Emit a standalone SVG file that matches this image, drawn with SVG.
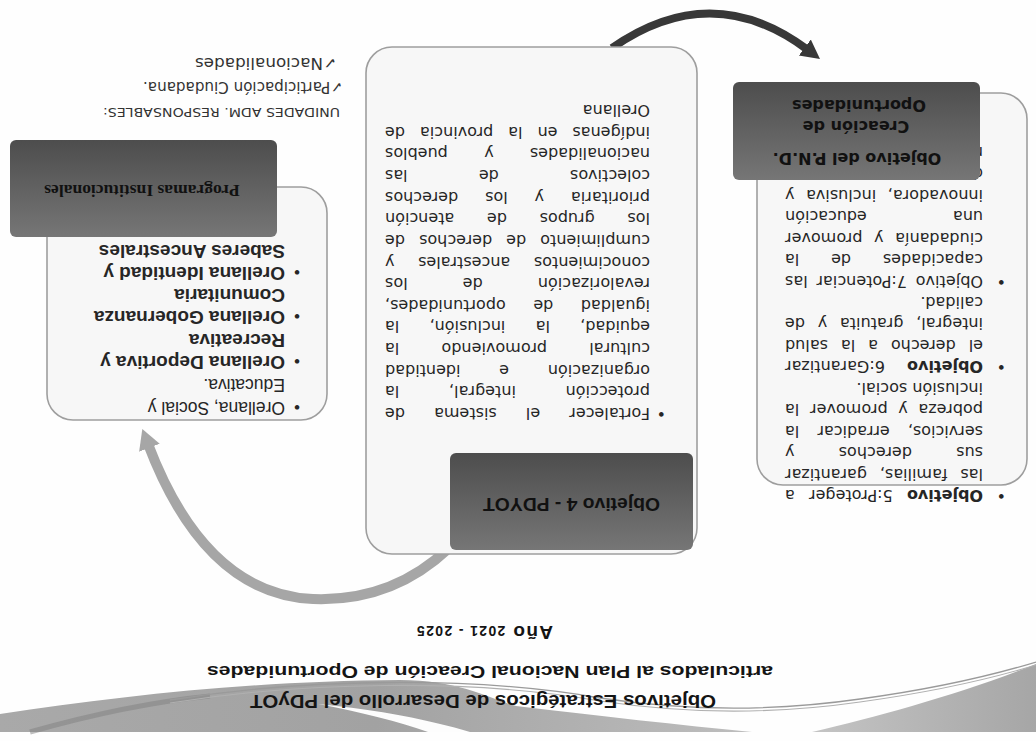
<svg xmlns="http://www.w3.org/2000/svg" width="1036" height="741" viewBox="0 0 1036 741">
<defs>
<style>
.box{fill:#f7f7f7;stroke:#9e9e9e;stroke-width:1.6}
.hdr{fill:url(#hg)}
.body{font-family:"DejaVu Sans",Verdana,sans-serif;font-size:16px;fill:#262626}
.lst{font-family:"Liberation Sans",Arial,sans-serif;fill:#262626}
.hb{font-family:"DejaVu Sans",Verdana,sans-serif;font-size:16px;font-weight:bold;fill:#111}
.ttl{font-family:"Liberation Sans",Arial,sans-serif;font-weight:bold;fill:#141414;text-anchor:middle}
.small{font-family:"DejaVu Sans",Verdana,sans-serif;fill:#333}
</style>
<linearGradient id="hg" x1="0" y1="0" x2="0" y2="1">
<stop offset="0" stop-color="#4d4d4d"/><stop offset="1" stop-color="#767676"/>
</linearGradient>
<linearGradient id="bg1" x1="0" y1="0" x2="1" y2="0">
<stop offset="0" stop-color="#a9a9a9"/><stop offset="0.5" stop-color="#a2a2a2"/><stop offset="1" stop-color="#bdbdbd"/>
</linearGradient>
<linearGradient id="bg2" x1="0" y1="0" x2="1" y2="0">
<stop offset="0" stop-color="#c4c4c4"/><stop offset="1" stop-color="#a6a6a6"/>
</linearGradient>
<marker id="ag" markerUnits="userSpaceOnUse" viewBox="0 0 24 24" markerWidth="24" markerHeight="24" refX="4" refY="12" orient="auto">
<path d="M0,1 L20,12 L0,23 Z" fill="#a6a6a6"/>
</marker>
<marker id="ad" markerUnits="userSpaceOnUse" viewBox="0 0 22 22" markerWidth="22" markerHeight="22" refX="4" refY="11" orient="auto">
<path d="M0,1 L19,11 L0,21 Z" fill="#383838"/>
</marker>
</defs>
<rect width="1036" height="741" fill="#fefefe"/>

<g id="banner">
<path d="M0,714 C120,696 250,681 400,680 C460,680 490,699 516,706 C600,716 680,725 752,732 L0,732 Z" fill="url(#bg1)"/>
<path d="M318,704 C360,712 400,722 428,732 L470,732 C430,720 380,710 318,704 Z" fill="#fdfdfd"/>
<path d="M30,732 C90,715 150,702 210,696" fill="none" stroke="#7f7f7f" stroke-width="5" opacity="0.5"/>
<path d="M812,732 C880,716 960,694 1036,664 L1036,732 Z" fill="url(#bg2)"/>
<path d="M170,700 C300,679 470,675 600,698 C680,710 770,712 860,699 C940,688 990,676 1036,662" fill="none" stroke="#9a9a9a" stroke-width="1.3"/>
<path d="M170,703 C300,682 470,678 600,701 C680,713 770,715 860,702 C940,691 990,679 1036,665" fill="none" stroke="#b0b0b0" stroke-width="1.1"/>
<g transform="rotate(180 518 370.5)">
<text class="ttl" x="553" y="46" font-size="18" textLength="466" lengthAdjust="spacingAndGlyphs">Objetivos Estratégicos de Desarrollo del PDyOT</text>
<text class="ttl" x="546" y="75" font-size="17" textLength="566" lengthAdjust="spacingAndGlyphs">articulados al Plan Nacional Creación de Oportunidades</text>
<text class="ttl" x="551" y="115" font-size="19" textLength="136" lengthAdjust="spacing">Año <tspan font-size="14">2021 - 2025</tspan></text>
</g>
</g>

<g id="connectors">
<path d="M449,548 Q392,602 313,599 Q205,594 148,444" fill="none" stroke="#a6a6a6" stroke-width="10" marker-end="url(#ag)"/>
<path d="M612,48 Q712,-22 808,50" fill="none" stroke="#383838" stroke-width="8" marker-end="url(#ad)"/>
</g>

<g id="node-pnd">
<rect class="box" x="757" y="93" width="270" height="392" rx="26"/>
<g transform="rotate(180 518 370.5)" class="body">
<text x="30" y="251">•</text>
<text x="53" y="251" textLength="198" lengthAdjust="spacing" word-spacing="9"><tspan font-weight="bold">Objetivo</tspan> 5:Proteger a</text>
<text x="53" y="272.5" textLength="198" lengthAdjust="spacing" word-spacing="7.8">las familias, garantizar</text>
<text x="53" y="293.9" textLength="198" lengthAdjust="spacing" word-spacing="39">sus derechos y</text>
<text x="53" y="315.4" textLength="198" lengthAdjust="spacing" word-spacing="13">servicios, erradicar la</text>
<text x="53" y="336.8" textLength="198" lengthAdjust="spacing" word-spacing="5.5">pobreza y promover la</text>
<text x="53" y="358.3">inclusión social.</text>
<text x="30" y="379.7">•</text>
<text x="53" y="379.7" textLength="198" lengthAdjust="spacing" word-spacing="17"><tspan font-weight="bold">Objetivo</tspan> 6:Garantizar</text>
<text x="53" y="401.2" textLength="198" lengthAdjust="spacing" word-spacing="7.8">el derecho a la salud</text>
<text x="53" y="422.6" textLength="198" lengthAdjust="spacing" word-spacing="7.7">integral, gratuita y de</text>
<text x="53" y="444.1">calidad.</text>
<text x="30" y="465.5">•</text>
<text x="53" y="465.5" textLength="198" lengthAdjust="spacing" word-spacing="3.6">Objetivo 7:Potenciar las</text>
<text x="53" y="487" textLength="198" lengthAdjust="spacing" word-spacing="26.7">capacidades de la</text>
<text x="53" y="508.4" textLength="198" lengthAdjust="spacing" word-spacing="6.5">ciudadanía y promover</text>
<text x="53" y="529.9" textLength="198" lengthAdjust="spacing" word-spacing="81">una educación</text>
<text x="53" y="551.3" textLength="198" lengthAdjust="spacing" word-spacing="6.5">innovadora, inclusiva y</text>
<text x="53" y="572.8">d</text>
<text x="53" y="594.2">n</text>
</g>
<rect class="hdr" x="733" y="82" width="247" height="98" rx="6"/>
<g transform="rotate(180 518 370.5)" class="hb" text-anchor="middle">
<text x="179" y="588">Objetivo del P.N.D.</text>
<text x="180" y="620">Creación de</text>
<text x="177" y="641">Oportunidades</text>
</g>
</g>

<g id="node-pdyot">
<rect class="box" x="366" y="47" width="331" height="507" rx="26"/>
<g transform="rotate(180 518 370.5)" class="body">
<text x="370" y="333">•</text>
<text x="386" y="333" textLength="265" lengthAdjust="spacing" word-spacing="23.9">Fortalecer el sistema de</text>
<text x="386" y="354.6" textLength="265" lengthAdjust="spacing" word-spacing="44.6">protección integral, la</text>
<text x="386" y="376.3" textLength="265" lengthAdjust="spacing" word-spacing="33.6">organización e identidad</text>
<text x="386" y="397.9" textLength="265" lengthAdjust="spacing" word-spacing="37.1">cultural promoviendo la</text>
<text x="386" y="419.6" textLength="265" lengthAdjust="spacing" word-spacing="25.2">equidad, la inclusión, la</text>
<text x="386" y="441.2" textLength="265" lengthAdjust="spacing" word-spacing="22.5">igualdad de oportunidades,</text>
<text x="386" y="462.8" textLength="265" lengthAdjust="spacing" word-spacing="50">revalorización de los</text>
<text x="386" y="484.5" textLength="265" lengthAdjust="spacing" word-spacing="18.5">conocimientos ancestrales y</text>
<text x="386" y="506.1" textLength="265" lengthAdjust="spacing" word-spacing="8.9">cumplimiento de derechos de</text>
<text x="386" y="527.8" textLength="265" lengthAdjust="spacing" word-spacing="27.6">los grupos de atención</text>
<text x="386" y="549.4" textLength="265" lengthAdjust="spacing" word-spacing="21.8">prioritaria y los derechos</text>
<text x="386" y="571" textLength="265" lengthAdjust="spacing" word-spacing="66.1">colectivos de las</text>
<text x="386" y="592.7" textLength="265" lengthAdjust="spacing" word-spacing="31.2">nacionalidades y pueblos</text>
<text x="386" y="614.3" textLength="265" lengthAdjust="spacing" word-spacing="9.8">indígenas en la provincia de</text>
<text x="386" y="636">Orellana</text>
</g>
<rect class="hdr" x="450" y="453" width="243" height="97" rx="6"/>
<g transform="rotate(180 518 370.5)">
<text x="464.5" y="243" font-family="Liberation Sans, Arial, sans-serif" font-size="18" font-weight="bold" fill="#111" text-anchor="middle" textLength="177" lengthAdjust="spacingAndGlyphs">Objetivo 4 - PDYOT</text>
</g>
</g>

<g id="node-programas">
<rect class="box" x="47" y="187" width="280" height="233" rx="26"/>
<g transform="rotate(180 518 370.5)" class="lst">
<text x="736" y="339" font-size="17">•</text>
<text x="751" y="339" font-size="17.5">Orellana, Social y</text>
<text x="751" y="362" font-size="17.5">Educativa.</text>
<text x="736" y="385" font-size="17">•</text>
<text x="751" y="385" font-size="19" font-weight="bold">Orellana Deportiva y</text>
<text x="751" y="407" font-size="19" font-weight="bold">Recreativa</text>
<text x="736" y="430" font-size="17">•</text>
<text x="751" y="430" font-size="19" font-weight="bold">Orellana Gobernanza</text>
<text x="751" y="452" font-size="19" font-weight="bold">Comunitaria</text>
<text x="736" y="474" font-size="17">•</text>
<text x="751" y="474" font-size="19" font-weight="bold">Orellana Identidad y</text>
<text x="751" y="496" font-size="19" font-weight="bold">Saberes Ancestrales</text>
</g>
<rect class="hdr" x="10" y="140" width="267" height="97" rx="6"/>
<g transform="rotate(180 518 370.5)">
<text x="894" y="556" font-family="Liberation Serif, Times New Roman, serif" font-size="17.5" font-weight="bold" fill="#111" text-anchor="middle">Programas Institucionales</text>
</g>
</g>

<g id="responsables">
<g transform="rotate(180 518 370.5)" class="small">
<text x="696" y="633" font-size="13" textLength="237" lengthAdjust="spacingAndGlyphs">UNIDADES ADM. RESPONSABLES:</text>
<text x="693" y="659" font-size="15" textLength="200" lengthAdjust="spacingAndGlyphs">✓Participación Ciudadana.</text>
<text x="699" y="683" font-size="15" textLength="142" lengthAdjust="spacingAndGlyphs">✓Nacionalidades</text>
</g>
</g>
</svg>
